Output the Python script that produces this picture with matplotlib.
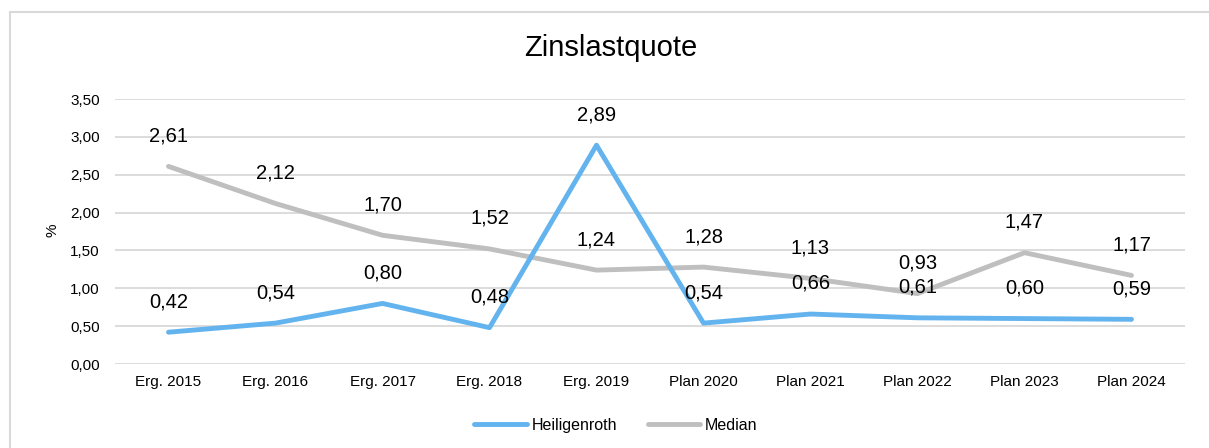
import matplotlib
matplotlib.use("Agg")
import matplotlib.pyplot as plt
from matplotlib.patches import Rectangle

plt.rcParams['font.family'] = ['Liberation Sans', 'DejaVu Sans']

# Daten
kategorien = ["Erg. 2015", "Erg. 2016", "Erg. 2017", "Erg. 2018", "Erg. 2019",
              "Plan 2020", "Plan 2021", "Plan 2022", "Plan 2023", "Plan 2024"]
heiligenroth = [0.42, 0.54, 0.80, 0.48, 2.89, 0.54, 0.66, 0.61, 0.60, 0.59]
median = [2.61, 2.12, 1.70, 1.52, 1.24, 1.28, 1.13, 0.93, 1.47, 1.17]
y_ticks = [0, 0.5, 1.0, 1.5, 2.0, 2.5, 3.0, 3.5]

blau = "#63B4EE"
grau = "#BFBFBF"
gitter = "#D9D9D9"

fig = plt.figure(figsize=(12.09, 4.48), dpi=100)
ax = fig.add_axes([115 / 1209, 1 - 364 / 448, 1070 / 1209, 265 / 448])

# Rahmen um das Diagramm
fig.patches.append(Rectangle((10 / 1209, -0.1), 1.2, 1 - 12 / 448 + 0.1,
                             transform=fig.transFigure, fill=False,
                             edgecolor=gitter, linewidth=1.5))

x = list(range(len(kategorien)))
ax.plot(x, heiligenroth, color=blau, linewidth=3.5, label="Heiligenroth",
        solid_capstyle="round", zorder=3)
ax.plot(x, median, color=grau, linewidth=3.5, label="Median",
        solid_capstyle="round", zorder=2)

# Datenbeschriftungen
for serie in (heiligenroth, median):
    for xi, v in zip(x, serie):
        ax.annotate(f"{v:.2f}".replace(".", ","), (xi, v), xytext=(0, 22),
                    textcoords="offset points", ha="center", va="center",
                    fontsize=14.5, color="black", zorder=4)

ax.set_xlim(-0.5, len(kategorien) - 0.5)
ax.set_ylim(0, 3.5)
ax.set_yticks(y_ticks)
ax.set_yticklabels([f"{t:.2f}".replace(".", ",") for t in y_ticks])
ax.set_xticks(x)
ax.set_xticklabels(kategorien)
ax.tick_params(axis="both", length=0, labelsize=11)
ax.tick_params(axis="y", pad=11)
ax.tick_params(axis="x", pad=8)
ax.grid(axis="y", color=gitter, linewidth=1.3)
ax.set_axisbelow(True)
for s in ax.spines.values():
    s.set_visible(False)

fig.text(52 / 1209, 1 - 230 / 448, "%", rotation=90, ha="center", va="center",
         fontsize=11)
fig.text(611 / 1209, 1 - 48 / 448, "Zinslastquote", ha="center", va="center",
         fontsize=21)

ax.legend(loc="center", bbox_to_anchor=(616 / 1209, 1 - 425 / 448),
          bbox_transform=fig.transFigure, ncol=2, frameon=False, fontsize=11.5,
          handlelength=3.3, handletextpad=0.3, columnspacing=1.9)

fig.savefig("out.png", dpi=100)
